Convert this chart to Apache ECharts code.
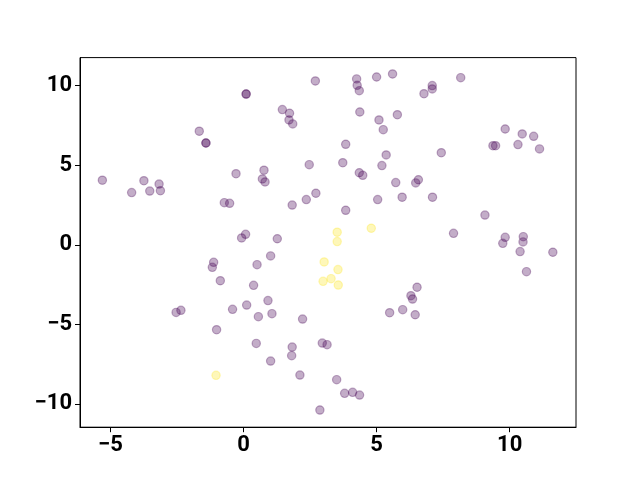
<!DOCTYPE html>
<html>
<head>
<meta charset="utf-8">
<script src="https://cdn.jsdelivr.net/npm/echarts@6/dist/echarts.min.js"></script>
<style>html,body{margin:0;padding:0;background:#fff}#c{width:640px;height:480px}</style>
</head>
<body>
<div id="c"></div>
<script>
const xTicks = [-5, 0, 5, 10];
const yTicks = [-10, -5, 0, 5, 10];
const purpleX = [0.10,0.10,-1.66,-1.41,-1.41,-5.30,-3.74,-3.17,-0.28,-4.20,-3.52,-3.12,-0.72,-0.52,0.08,-0.07,-1.12,-1.17,-0.87,-2.53,-2.35,-0.41,0.12,-1.01,
  2.70,4.25,4.27,4.35,5.00,5.60,1.46,1.73,1.71,1.85,4.37,5.09,5.78,5.25,3.84,5.36,2.47,3.73,5.20,4.35,4.48,5.72,0.77,0.71,0.81,
  8.16,7.09,7.09,6.78,9.83,10.47,10.90,9.37,9.47,10.31,11.12,7.43,6.57,6.47,
  5.96,7.10,9.07,7.89,9.83,9.74,10.51,10.50,10.39,11.62,10.63,6.52,6.29,6.35,5.98,6.45,
  2.72,2.36,1.83,5.04,3.84,1.27,1.02,0.51,0.38,0.92,
  0.56,1.07,2.22,5.49,0.48,1.83,1.81,1.02,2.96,3.14,2.12,3.50,3.80,4.10,4.36,2.87];
const purpleY = [9.48,9.48,7.14,6.40,6.40,4.06,4.03,3.82,4.47,3.28,3.38,3.40,2.65,2.61,0.66,0.43,-1.10,-1.42,-2.26,-4.25,-4.12,-4.06,-3.79,-5.34,
  10.30,10.43,10.03,9.69,10.55,10.74,8.50,8.27,7.85,7.60,8.35,7.85,8.18,7.24,6.32,5.65,5.04,5.16,4.98,4.53,4.37,3.91,4.69,4.14,3.95,
  10.51,10.01,9.80,9.50,7.28,6.97,6.82,6.23,6.23,6.30,6.03,5.79,4.09,3.89,
  2.99,2.99,1.87,0.72,0.47,0.09,0.51,0.18,-0.43,-0.47,-1.69,-2.67,-3.20,-3.41,-4.08,-4.40,
  3.24,2.84,2.50,2.84,2.17,0.38,-0.70,-1.25,-2.55,-3.51,
  -4.52,-4.33,-4.67,-4.27,-6.20,-6.43,-6.97,-7.31,-6.18,-6.28,-8.19,-8.48,-9.34,-9.28,-9.45,-10.39];
const yellowX = [3.52,3.52,4.80,3.03,3.55,3.29,2.99,3.56,-1.03];
const yellowY = [0.79,0.20,1.04,-1.08,-1.56,-2.13,-2.30,-2.53,-8.21];

const pts = (xs, ys) => xs.map((x, i) => [x, ys[i]]);
const fmt = v => (v < 0 ? '\u2212' + Math.abs(v) : String(v));
const lblStyle = {color: '#000', fontFamily: 'Roboto', fontWeight: 'bold', fontSize: 22, formatter: fmt};

const chart = echarts.init(document.getElementById('c'), null, {renderer: 'canvas'});
chart.setOption({
  animation: false,
  backgroundColor: '#fff',
  grid: {left: 80, right: 64, top: 57.6, bottom: 52.8, show: true, borderColor: '#000', borderWidth: 1, backgroundColor: 'transparent'},
  xAxis: {
    type: 'value', min: -6.14, max: 12.49,
    splitLine: {show: false},
    axisLine: {show: true, onZero: false, lineStyle: {color: '#000', width: 1}},
    axisTick: {show: true, length: 5, lineStyle: {color: '#000'}, customValues: xTicks},
    axisLabel: Object.assign({margin: 7, customValues: xTicks}, lblStyle)
  },
  yAxis: {
    type: 'value', min: -11.47, max: 11.77,
    splitLine: {show: false},
    axisLine: {show: true, onZero: false, lineStyle: {color: '#000', width: 1}},
    axisTick: {show: true, length: 5, lineStyle: {color: '#000'}, customValues: yTicks},
    axisLabel: Object.assign({margin: 8, customValues: yTicks}, lblStyle)
  },
  series: [
    {type: 'scatter', data: pts(purpleX, purpleY), symbolSize: 8.3,
     itemStyle: {color: 'rgba(68,1,84,0.32)', borderColor: 'rgba(68,1,84,0.32)', borderWidth: 1.2, opacity: 1}},
    {type: 'scatter', data: pts(yellowX, yellowY), symbolSize: 8.3,
     itemStyle: {color: 'rgba(253,231,37,0.32)', borderColor: 'rgba(253,231,37,0.32)', borderWidth: 1.2, opacity: 1}}
  ]
});
</script>
</body>
</html>
